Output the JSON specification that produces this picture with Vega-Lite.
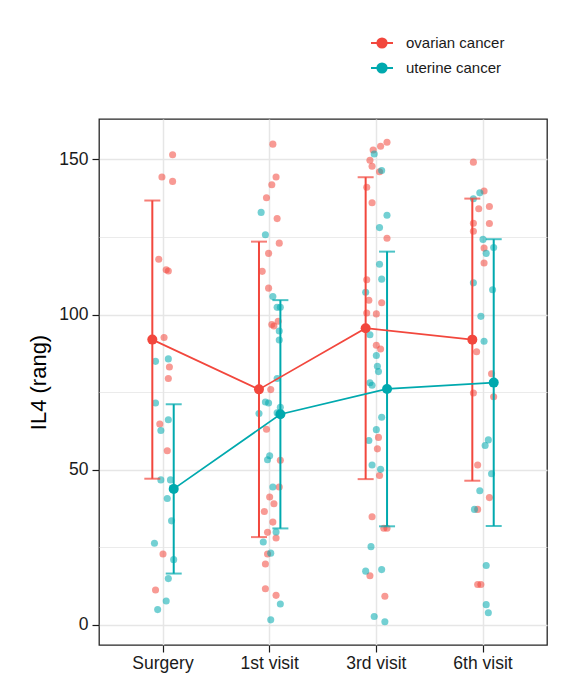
{
  "$schema": "https://vega.github.io/schema/vega-lite/v6.json",
  "autosize": {"type": "none"},
  "width": 448,
  "height": 526,
  "padding": {"left": 99, "top": 119, "right": 36, "bottom": 46},
  "background": "white",
  "config": {
    "font": "Liberation Sans",
    "view": {"stroke": "#262626", "strokeWidth": 1.3},
    "axis": {
      "labelFont": "Liberation Sans",
      "labelFontSize": 17.5,
      "labelColor": "#1a1a1a",
      "titleFont": "Liberation Sans",
      "titleFontWeight": "normal",
      "titleColor": "#000000",
      "tickColor": "#1a1a1a",
      "tickSize": 7,
      "tickWidth": 1.2,
      "domain": false,
      "gridColor": "#E6E6E6"
    },
    "legend": {
      "labelFont": "Liberation Sans",
      "labelFontSize": 15,
      "labelColor": "#1a1a1a"
    }
  },
  "datasets": {
    "obs": [
      {"visit": "Surgery", "group": "ovarian cancer", "il4": 151.5, "jitter": 0.09},
      {"visit": "Surgery", "group": "ovarian cancer", "il4": 144.3, "jitter": -0.01},
      {"visit": "Surgery", "group": "ovarian cancer", "il4": 142.9, "jitter": 0.09},
      {"visit": "Surgery", "group": "ovarian cancer", "il4": 117.8, "jitter": -0.04},
      {"visit": "Surgery", "group": "ovarian cancer", "il4": 114.4, "jitter": 0.03},
      {"visit": "Surgery", "group": "ovarian cancer", "il4": 114.0, "jitter": 0.05},
      {"visit": "Surgery", "group": "ovarian cancer", "il4": 92.6, "jitter": 0.01},
      {"visit": "Surgery", "group": "ovarian cancer", "il4": 83.1, "jitter": 0.06},
      {"visit": "Surgery", "group": "ovarian cancer", "il4": 79.4, "jitter": 0.05},
      {"visit": "Surgery", "group": "ovarian cancer", "il4": 64.7, "jitter": -0.03},
      {"visit": "Surgery", "group": "ovarian cancer", "il4": 56.1, "jitter": 0.04},
      {"visit": "Surgery", "group": "ovarian cancer", "il4": 22.8, "jitter": 0.0},
      {"visit": "Surgery", "group": "ovarian cancer", "il4": 11.2, "jitter": -0.07},
      {"visit": "Surgery", "group": "uterine cancer", "il4": 85.7, "jitter": 0.05},
      {"visit": "Surgery", "group": "uterine cancer", "il4": 84.9, "jitter": -0.07},
      {"visit": "Surgery", "group": "uterine cancer", "il4": 71.5, "jitter": -0.07},
      {"visit": "Surgery", "group": "uterine cancer", "il4": 66.1, "jitter": 0.05},
      {"visit": "Surgery", "group": "uterine cancer", "il4": 62.6, "jitter": -0.02},
      {"visit": "Surgery", "group": "uterine cancer", "il4": 46.7, "jitter": -0.02},
      {"visit": "Surgery", "group": "uterine cancer", "il4": 46.7, "jitter": 0.07},
      {"visit": "Surgery", "group": "uterine cancer", "il4": 40.7, "jitter": 0.04},
      {"visit": "Surgery", "group": "uterine cancer", "il4": 33.5, "jitter": 0.08},
      {"visit": "Surgery", "group": "uterine cancer", "il4": 26.3, "jitter": -0.08},
      {"visit": "Surgery", "group": "uterine cancer", "il4": 21.0, "jitter": 0.1},
      {"visit": "Surgery", "group": "uterine cancer", "il4": 14.9, "jitter": 0.05},
      {"visit": "Surgery", "group": "uterine cancer", "il4": 7.7, "jitter": 0.03},
      {"visit": "Surgery", "group": "uterine cancer", "il4": 4.9, "jitter": -0.05},
      {"visit": "1st visit", "group": "ovarian cancer", "il4": 154.9, "jitter": 0.03},
      {"visit": "1st visit", "group": "ovarian cancer", "il4": 144.3, "jitter": 0.06},
      {"visit": "1st visit", "group": "ovarian cancer", "il4": 141.8, "jitter": 0.02},
      {"visit": "1st visit", "group": "ovarian cancer", "il4": 137.6, "jitter": -0.03},
      {"visit": "1st visit", "group": "ovarian cancer", "il4": 130.9, "jitter": 0.07},
      {"visit": "1st visit", "group": "ovarian cancer", "il4": 123.0, "jitter": 0.09},
      {"visit": "1st visit", "group": "ovarian cancer", "il4": 119.7, "jitter": -0.01},
      {"visit": "1st visit", "group": "ovarian cancer", "il4": 113.9, "jitter": -0.07},
      {"visit": "1st visit", "group": "ovarian cancer", "il4": 108.5, "jitter": -0.01},
      {"visit": "1st visit", "group": "ovarian cancer", "il4": 97.8, "jitter": 0.08},
      {"visit": "1st visit", "group": "ovarian cancer", "il4": 96.8, "jitter": 0.02},
      {"visit": "1st visit", "group": "ovarian cancer", "il4": 96.3, "jitter": 0.04},
      {"visit": "1st visit", "group": "ovarian cancer", "il4": 75.8, "jitter": 0.01},
      {"visit": "1st visit", "group": "ovarian cancer", "il4": 63.0, "jitter": -0.03},
      {"visit": "1st visit", "group": "ovarian cancer", "il4": 53.0, "jitter": 0.1},
      {"visit": "1st visit", "group": "ovarian cancer", "il4": 44.4, "jitter": 0.09},
      {"visit": "1st visit", "group": "ovarian cancer", "il4": 41.2, "jitter": 0.0},
      {"visit": "1st visit", "group": "ovarian cancer", "il4": 39.0, "jitter": 0.04},
      {"visit": "1st visit", "group": "ovarian cancer", "il4": 36.5, "jitter": -0.05},
      {"visit": "1st visit", "group": "ovarian cancer", "il4": 33.1, "jitter": 0.03},
      {"visit": "1st visit", "group": "ovarian cancer", "il4": 29.8, "jitter": -0.02},
      {"visit": "1st visit", "group": "ovarian cancer", "il4": 28.0, "jitter": 0.06},
      {"visit": "1st visit", "group": "ovarian cancer", "il4": 22.8, "jitter": -0.02},
      {"visit": "1st visit", "group": "ovarian cancer", "il4": 19.6, "jitter": -0.04},
      {"visit": "1st visit", "group": "ovarian cancer", "il4": 11.6, "jitter": -0.04},
      {"visit": "1st visit", "group": "ovarian cancer", "il4": 9.5, "jitter": 0.06},
      {"visit": "1st visit", "group": "uterine cancer", "il4": 132.9, "jitter": -0.08},
      {"visit": "1st visit", "group": "uterine cancer", "il4": 125.7, "jitter": -0.04},
      {"visit": "1st visit", "group": "uterine cancer", "il4": 105.8, "jitter": 0.03},
      {"visit": "1st visit", "group": "uterine cancer", "il4": 102.3, "jitter": 0.07},
      {"visit": "1st visit", "group": "uterine cancer", "il4": 102.3, "jitter": 0.1},
      {"visit": "1st visit", "group": "uterine cancer", "il4": 94.7, "jitter": 0.09},
      {"visit": "1st visit", "group": "uterine cancer", "il4": 91.8, "jitter": 0.09},
      {"visit": "1st visit", "group": "uterine cancer", "il4": 79.4, "jitter": 0.07},
      {"visit": "1st visit", "group": "uterine cancer", "il4": 71.8, "jitter": -0.04},
      {"visit": "1st visit", "group": "uterine cancer", "il4": 71.5, "jitter": -0.01},
      {"visit": "1st visit", "group": "uterine cancer", "il4": 70.1, "jitter": 0.1},
      {"visit": "1st visit", "group": "uterine cancer", "il4": 68.3, "jitter": 0.07},
      {"visit": "1st visit", "group": "uterine cancer", "il4": 68.1, "jitter": -0.1},
      {"visit": "1st visit", "group": "uterine cancer", "il4": 54.5, "jitter": 0.0},
      {"visit": "1st visit", "group": "uterine cancer", "il4": 53.2, "jitter": -0.02},
      {"visit": "1st visit", "group": "uterine cancer", "il4": 44.4, "jitter": 0.03},
      {"visit": "1st visit", "group": "uterine cancer", "il4": 29.9, "jitter": 0.06},
      {"visit": "1st visit", "group": "uterine cancer", "il4": 26.7, "jitter": -0.06},
      {"visit": "1st visit", "group": "uterine cancer", "il4": 23.1, "jitter": 0.01},
      {"visit": "1st visit", "group": "uterine cancer", "il4": 6.7, "jitter": 0.1},
      {"visit": "1st visit", "group": "uterine cancer", "il4": 1.6, "jitter": 0.01},
      {"visit": "3rd visit", "group": "ovarian cancer", "il4": 155.5, "jitter": 0.1},
      {"visit": "3rd visit", "group": "ovarian cancer", "il4": 154.2, "jitter": 0.04},
      {"visit": "3rd visit", "group": "ovarian cancer", "il4": 153.0, "jitter": -0.03},
      {"visit": "3rd visit", "group": "ovarian cancer", "il4": 149.7, "jitter": -0.06},
      {"visit": "3rd visit", "group": "ovarian cancer", "il4": 147.8, "jitter": -0.04},
      {"visit": "3rd visit", "group": "ovarian cancer", "il4": 146.0, "jitter": 0.03},
      {"visit": "3rd visit", "group": "ovarian cancer", "il4": 141.0, "jitter": -0.09},
      {"visit": "3rd visit", "group": "ovarian cancer", "il4": 136.0, "jitter": -0.04},
      {"visit": "3rd visit", "group": "ovarian cancer", "il4": 124.6, "jitter": 0.1},
      {"visit": "3rd visit", "group": "ovarian cancer", "il4": 111.2, "jitter": -0.09},
      {"visit": "3rd visit", "group": "ovarian cancer", "il4": 104.6, "jitter": -0.07},
      {"visit": "3rd visit", "group": "ovarian cancer", "il4": 103.8, "jitter": 0.05},
      {"visit": "3rd visit", "group": "ovarian cancer", "il4": 100.5, "jitter": -0.09},
      {"visit": "3rd visit", "group": "ovarian cancer", "il4": 100.2, "jitter": 0.0},
      {"visit": "3rd visit", "group": "ovarian cancer", "il4": 90.1, "jitter": 0.0},
      {"visit": "3rd visit", "group": "ovarian cancer", "il4": 88.9, "jitter": 0.04},
      {"visit": "3rd visit", "group": "ovarian cancer", "il4": 60.4, "jitter": 0.02},
      {"visit": "3rd visit", "group": "ovarian cancer", "il4": 56.7, "jitter": 0.01},
      {"visit": "3rd visit", "group": "ovarian cancer", "il4": 48.1, "jitter": 0.03},
      {"visit": "3rd visit", "group": "ovarian cancer", "il4": 34.8, "jitter": -0.04},
      {"visit": "3rd visit", "group": "ovarian cancer", "il4": 31.1, "jitter": 0.07},
      {"visit": "3rd visit", "group": "ovarian cancer", "il4": 31.1, "jitter": 0.1},
      {"visit": "3rd visit", "group": "ovarian cancer", "il4": 15.8, "jitter": -0.06},
      {"visit": "3rd visit", "group": "ovarian cancer", "il4": 9.2, "jitter": 0.08},
      {"visit": "3rd visit", "group": "uterine cancer", "il4": 151.7, "jitter": -0.02},
      {"visit": "3rd visit", "group": "uterine cancer", "il4": 146.4, "jitter": 0.05},
      {"visit": "3rd visit", "group": "uterine cancer", "il4": 132.0, "jitter": 0.1},
      {"visit": "3rd visit", "group": "uterine cancer", "il4": 128.0, "jitter": 0.03},
      {"visit": "3rd visit", "group": "uterine cancer", "il4": 116.2, "jitter": 0.03},
      {"visit": "3rd visit", "group": "uterine cancer", "il4": 111.4, "jitter": 0.05},
      {"visit": "3rd visit", "group": "uterine cancer", "il4": 107.2, "jitter": -0.1},
      {"visit": "3rd visit", "group": "uterine cancer", "il4": 93.5, "jitter": -0.06},
      {"visit": "3rd visit", "group": "uterine cancer", "il4": 86.8, "jitter": 0.0},
      {"visit": "3rd visit", "group": "uterine cancer", "il4": 83.3, "jitter": 0.01},
      {"visit": "3rd visit", "group": "uterine cancer", "il4": 81.6, "jitter": 0.02},
      {"visit": "3rd visit", "group": "uterine cancer", "il4": 78.0, "jitter": -0.06},
      {"visit": "3rd visit", "group": "uterine cancer", "il4": 77.2, "jitter": -0.04},
      {"visit": "3rd visit", "group": "uterine cancer", "il4": 66.9, "jitter": 0.05},
      {"visit": "3rd visit", "group": "uterine cancer", "il4": 62.9, "jitter": 0.0},
      {"visit": "3rd visit", "group": "uterine cancer", "il4": 59.4, "jitter": -0.07},
      {"visit": "3rd visit", "group": "uterine cancer", "il4": 51.5, "jitter": -0.04},
      {"visit": "3rd visit", "group": "uterine cancer", "il4": 50.1, "jitter": 0.04},
      {"visit": "3rd visit", "group": "uterine cancer", "il4": 25.2, "jitter": -0.05},
      {"visit": "3rd visit", "group": "uterine cancer", "il4": 17.8, "jitter": 0.05},
      {"visit": "3rd visit", "group": "uterine cancer", "il4": 17.3, "jitter": -0.1},
      {"visit": "3rd visit", "group": "uterine cancer", "il4": 2.7, "jitter": -0.02},
      {"visit": "3rd visit", "group": "uterine cancer", "il4": 1.0, "jitter": 0.08},
      {"visit": "6th visit", "group": "ovarian cancer", "il4": 149.1, "jitter": -0.09},
      {"visit": "6th visit", "group": "ovarian cancer", "il4": 139.8, "jitter": 0.01},
      {"visit": "6th visit", "group": "ovarian cancer", "il4": 134.8, "jitter": 0.06},
      {"visit": "6th visit", "group": "ovarian cancer", "il4": 134.1, "jitter": -0.04},
      {"visit": "6th visit", "group": "ovarian cancer", "il4": 129.4, "jitter": -0.09},
      {"visit": "6th visit", "group": "ovarian cancer", "il4": 129.3, "jitter": 0.06},
      {"visit": "6th visit", "group": "ovarian cancer", "il4": 126.8, "jitter": -0.09},
      {"visit": "6th visit", "group": "ovarian cancer", "il4": 121.4, "jitter": 0.01},
      {"visit": "6th visit", "group": "ovarian cancer", "il4": 116.6, "jitter": 0.01},
      {"visit": "6th visit", "group": "ovarian cancer", "il4": 88.0, "jitter": -0.06},
      {"visit": "6th visit", "group": "ovarian cancer", "il4": 80.9, "jitter": 0.08},
      {"visit": "6th visit", "group": "ovarian cancer", "il4": 74.7, "jitter": -0.09},
      {"visit": "6th visit", "group": "ovarian cancer", "il4": 73.5, "jitter": 0.1},
      {"visit": "6th visit", "group": "ovarian cancer", "il4": 51.5, "jitter": -0.05},
      {"visit": "6th visit", "group": "ovarian cancer", "il4": 41.0, "jitter": 0.06},
      {"visit": "6th visit", "group": "ovarian cancer", "il4": 37.2, "jitter": -0.05},
      {"visit": "6th visit", "group": "ovarian cancer", "il4": 13.0, "jitter": -0.05},
      {"visit": "6th visit", "group": "ovarian cancer", "il4": 13.0, "jitter": -0.02},
      {"visit": "6th visit", "group": "uterine cancer", "il4": 139.2, "jitter": -0.03},
      {"visit": "6th visit", "group": "uterine cancer", "il4": 137.3, "jitter": -0.09},
      {"visit": "6th visit", "group": "uterine cancer", "il4": 124.2, "jitter": 0.0},
      {"visit": "6th visit", "group": "uterine cancer", "il4": 121.6, "jitter": 0.1},
      {"visit": "6th visit", "group": "uterine cancer", "il4": 119.7, "jitter": 0.03},
      {"visit": "6th visit", "group": "uterine cancer", "il4": 110.2, "jitter": -0.09},
      {"visit": "6th visit", "group": "uterine cancer", "il4": 108.0, "jitter": 0.09},
      {"visit": "6th visit", "group": "uterine cancer", "il4": 99.4, "jitter": -0.02},
      {"visit": "6th visit", "group": "uterine cancer", "il4": 91.4, "jitter": 0.01},
      {"visit": "6th visit", "group": "uterine cancer", "il4": 59.6, "jitter": 0.05},
      {"visit": "6th visit", "group": "uterine cancer", "il4": 57.8, "jitter": 0.02},
      {"visit": "6th visit", "group": "uterine cancer", "il4": 48.7, "jitter": 0.08},
      {"visit": "6th visit", "group": "uterine cancer", "il4": 43.2, "jitter": -0.03},
      {"visit": "6th visit", "group": "uterine cancer", "il4": 37.2, "jitter": -0.08},
      {"visit": "6th visit", "group": "uterine cancer", "il4": 19.1, "jitter": 0.03},
      {"visit": "6th visit", "group": "uterine cancer", "il4": 6.5, "jitter": 0.03},
      {"visit": "6th visit", "group": "uterine cancer", "il4": 3.9, "jitter": 0.05}
    ]
  },
  "data": {"name": "obs"},
  "encoding": {
    "x": {
      "field": "visit",
      "type": "nominal",
      "title": null,
      "scale": {"domain": ["Surgery", "1st visit", "3rd visit", "6th visit"], "paddingInner": 0, "paddingOuter": 0.1},
      "axis": {"labelAngle": 0, "grid": true, "gridWidth": 1.5, "labelPadding": 2}
    },
    "y": {
      "type": "quantitative",
      "scale": {"domain": [-6.5, 163], "nice": false, "zero": false},
      "axis": {
        "title": "IL4 (rang)",
        "titleFontSize": 22,
        "titlePadding": 8,
        "values": [0, 25, 50, 75, 100, 125, 150],
        "labelExpr": "datum.value % 50 === 0 ? datum.label : ''",
        "tickOpacity": {"condition": {"test": "datum.value % 50 === 0", "value": 1}, "value": 0},
        "gridWidth": {"condition": {"test": "datum.value % 50 === 0", "value": 1.5}, "value": 0.8},
        "labelPadding": 4
      }
    },
    "color": {
      "field": "group",
      "type": "nominal",
      "scale": {"domain": ["ovarian cancer", "uterine cancer"], "range": ["#F2473D", "#00A9AE"]},
      "legend": {
        "title": null,
        "orient": "none",
        "legendX": 271,
        "legendY": -88,
        "padding": 0,
        "symbolType": "M-1,0L1,0M-0.42,0A0.42,0.42,0,1,1,0.42,0A0.42,0.42,0,1,1,-0.42,0Z",
        "symbolSize": 484,
        "symbolStrokeWidth": 2,
        "labelOffset": 12,
        "rowPadding": 4,
        "encode": {
          "symbols": {
            "update": {
              "stroke": {"scale": "color", "field": "value"},
              "fill": {"scale": "color", "field": "value"},
              "opacity": {"value": 1},
              "strokeWidth": {"value": 2}
            }
          }
        }
      }
    }
  },
  "layer": [
    {
      "mark": {"type": "point", "filled": true, "size": 50, "opacity": 0.55},
      "encoding": {
        "y": {"field": "il4"},
        "xOffset": {"field": "jitter", "type": "quantitative", "scale": {"domain": [-0.5, 0.5]}}
      }
    },
    {
      "mark": {"type": "errorbar", "extent": "stdev", "thickness": 2, "ticks": {"size": 16, "thickness": 2}},
      "encoding": {
        "y": {"field": "il4"},
        "xOffset": {"field": "group", "type": "nominal", "scale": {"type": "point", "range": [31.95, 74.75], "domain": ["ovarian cancer", "uterine cancer"]}}
      }
    },
    {
      "mark": {"type": "line", "strokeWidth": 1.7},
      "encoding": {
        "y": {"field": "il4", "aggregate": "mean"},
        "xOffset": {"field": "group", "type": "nominal", "scale": {"type": "point", "range": [31.95, 74.75], "domain": ["ovarian cancer", "uterine cancer"]}}
      }
    },
    {
      "mark": {"type": "point", "filled": true, "size": 100, "opacity": 1},
      "encoding": {
        "y": {"field": "il4", "aggregate": "mean"},
        "xOffset": {"field": "group", "type": "nominal", "scale": {"type": "point", "range": [31.95, 74.75], "domain": ["ovarian cancer", "uterine cancer"]}}
      }
    }
  ],
  "resolve": {"scale": {"xOffset": "independent"}}
}
